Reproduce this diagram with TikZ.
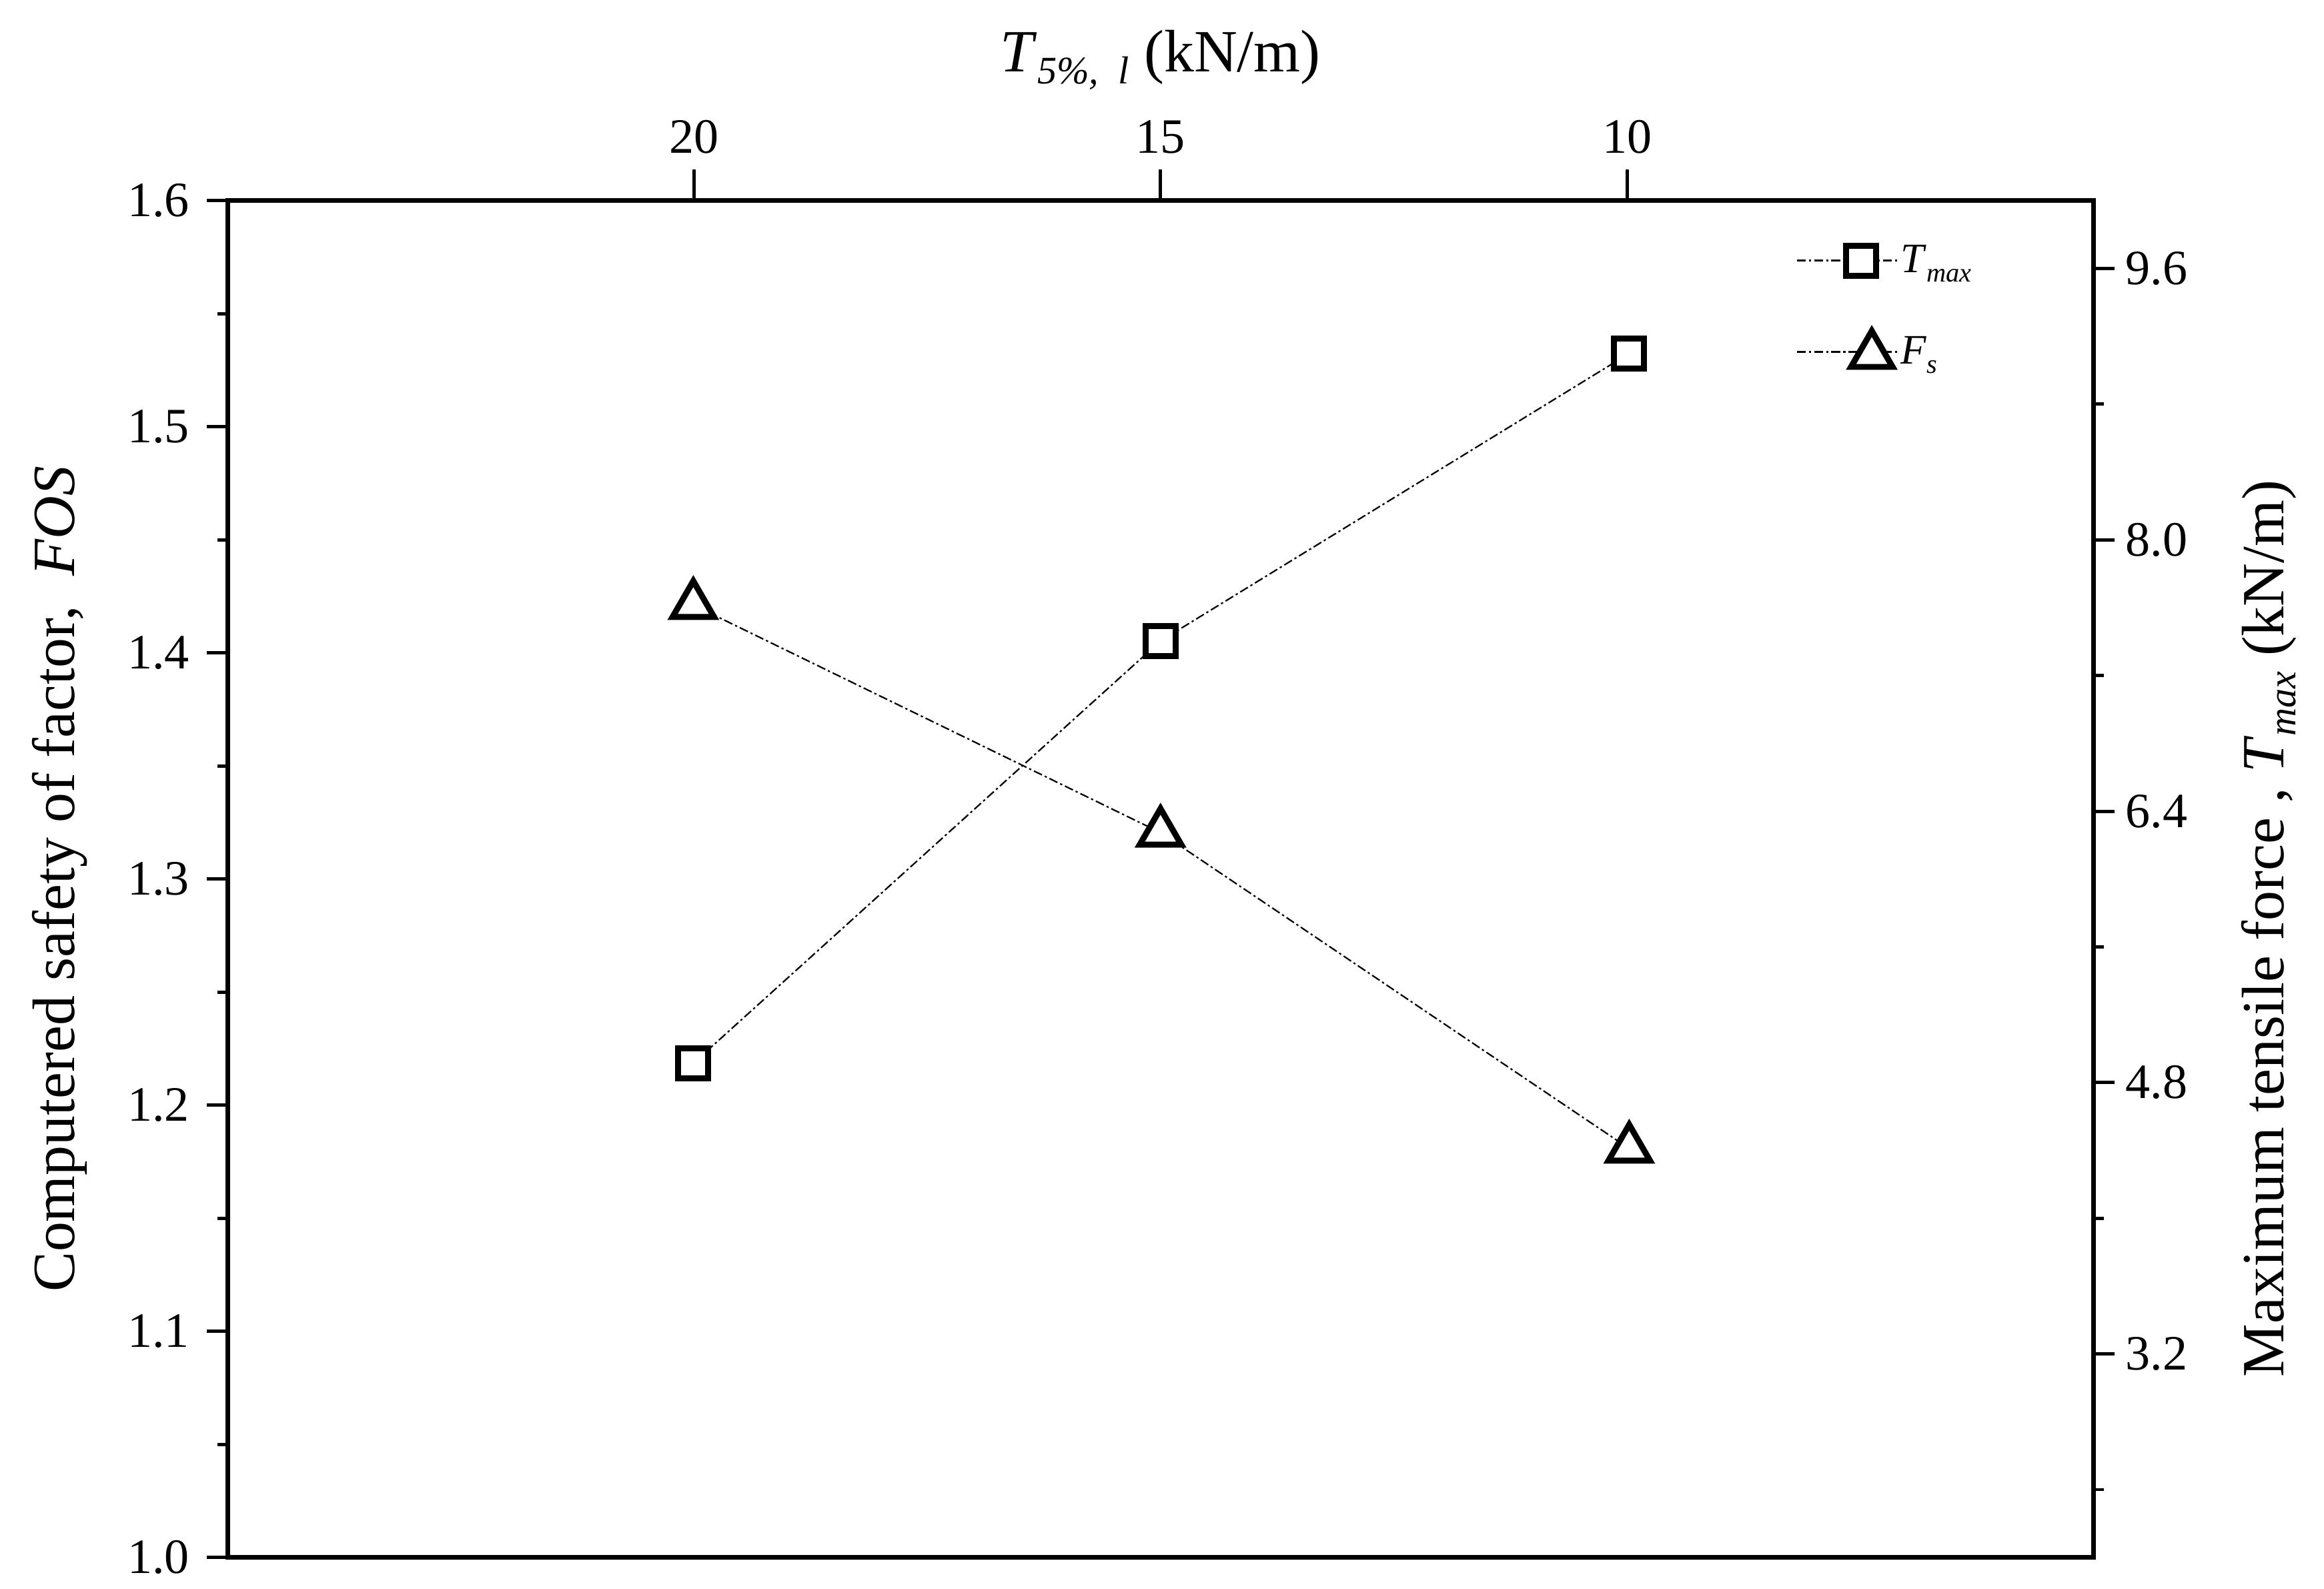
\documentclass[tikz,border=0pt]{standalone}
\usepackage{fontspec}
\usetikzlibrary{shapes.geometric}
\setmainfont{Liberation Serif}
\begin{document}
\begin{tikzpicture}[x=1pt,y=-1pt,
  tick/.style={line width=2.2pt},
  lab/.style={font=\fontsize{33}{33}\selectfont},
  sq/.style={draw,line width=4pt,minimum size=20pt,inner sep=0pt,fill=white},
  tri/.style={draw,line width=4pt,regular polygon,regular polygon sides=3,minimum size=32pt,inner sep=0pt,fill=white},
  dl/.style={line width=1pt,dash pattern=on 6pt off 2pt on 1.5pt off 2pt}]
\useasboundingbox (0,0) rectangle (1552,1061);
% frame
\draw[line width=3pt] (152,134) rectangle (1398,1040);
% left axis
\foreach \v/\l in {0/1.0,1/1.1,2/1.2,3/1.3,4/1.4,5/1.5,6/1.6}{
  \draw[tick] (152,1040-151*\v) -- (138,1040-151*\v);
  \node[lab,anchor=east] (L\v) at (130,1040-151*\v) {\l};}
\foreach \v in {0,...,5}{\draw[tick] (152,1040-151*\v-75.5) -- (145,1040-151*\v-75.5);}
% right axis: 2..10
\foreach \v in {2.4,3.2,...,10.0}{\draw[tick] (1398,1040-113.25*\v+226.5) -- (1405,1040-113.25*\v+226.5);}
\foreach \v in {3.2,4.8,6.4,8.0,9.6}{\draw[tick] (1398,1040-113.25*\v+226.5) -- (1412,1040-113.25*\v+226.5);
  \node[lab,anchor=west] at (1416,1040-113.25*\v+226.5) {\v};}
% top axis 25..5
\foreach \v in {20,15,10}{\draw[tick] (152+62.3*25-62.3*\v,134) -- (152+62.3*25-62.3*\v,113);
  \node[lab,anchor=south] at (152+62.3*25-62.3*\v,106) {\v};}
% labels
\node[font=\fontsize{40}{40}\selectfont] (tl) at (775,40) {\textit{T}\raisebox{-8pt}{\fontsize{26}{26}\selectfont\textit{5\%,\ \ l}} (kN/m)};
\node[font=\fontsize{40}{40}\selectfont,rotate=90] (ll) at (40,587) {Computered safety of factor,\ \ \textit{FOS}};
\node[font=\fontsize{40}{40}\selectfont,rotate=90] (rl) at (1515,620) {Maximum tensile force , \textit{T}\raisebox{-8pt}{\fontsize{26}{26}\selectfont\textit{max}} (kN/m)};
% data
\coordinate (s1) at (463,710); \coordinate (s2) at (775,428); \coordinate (s3) at (1088,236);
\coordinate (t1) at (463,404); \coordinate (t2) at (775,556); \coordinate (t3) at (1088,767);
\draw[dl] (s1) -- (s2) -- (s3);
\draw[dl] (t1) -- (t2) -- (t3);
\foreach \p in {s1,s2,s3}{\node[sq] at (\p) {};}
\foreach \p in {t1,t2,t3}{\node[tri] at (\p) {};}
% legend
\coordinate (a1) at (1200,174); \coordinate (a2) at (1268,174);
\coordinate (b1) at (1200,235); \coordinate (b2) at (1268,235);
\draw[dl] (a1) -- (a2); \draw[dl] (b1) -- (b2);
\node[sq] (ls) at (1243,174) {}; \node[tri] (lt) at (1250,237) {};
\node[anchor=west,font=\fontsize{28}{28}\selectfont] (lx) at (1266,176) {\textit{T}\raisebox{-6pt}{\fontsize{18}{18}\selectfont\textit{max}}};
\node[anchor=west,font=\fontsize{28}{28}\selectfont] (ly) at (1266,237) {\textit{F}\raisebox{-6pt}{\fontsize{18}{18}\selectfont\textit{s}}};
\end{tikzpicture}
\end{document}
